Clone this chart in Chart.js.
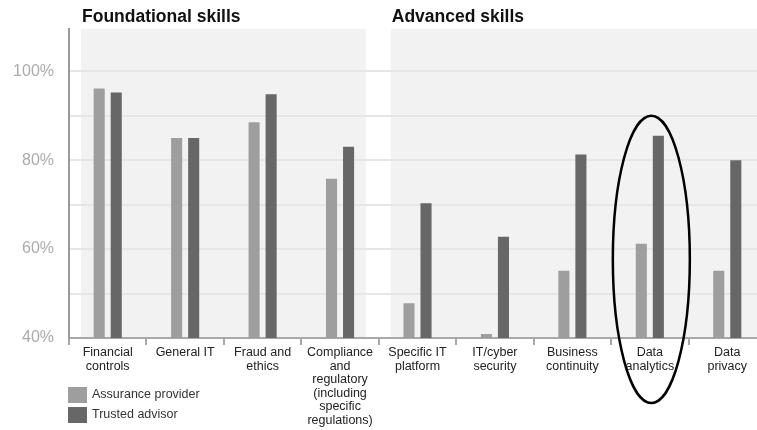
<!DOCTYPE html>
<html>
<head>
<meta charset="utf-8">
<title>Foundational and advanced skills</title>
<script src="https://cdn.jsdelivr.net/npm/chart.js@4.4.1/dist/chart.umd.min.js"></script>
<style>
  html, body { margin: 0; padding: 0; background: #fff; overflow: hidden; }
  #wrap { width: 768px; height: 430px; }
</style>
</head>
<body>
<div id="wrap"><canvas id="chart" width="768" height="430"></canvas></div>
<script>
// Chart data
const categories = [
  ['Financial', 'controls'],
  ['General IT'],
  ['Fraud and', 'ethics'],
  ['Compliance', 'and', 'regulatory', '(including', 'specific', 'regulations)'],
  ['Specific IT', 'platform'],
  ['IT/cyber', 'security'],
  ['Business', 'continuity'],
  ['Data', 'analytics'],
  ['Data', 'privacy']
];
const seriesNames = ['Assurance provider', 'Trusted advisor'];
const assuranceProvider = [96.1, 85.0, 88.5, 75.8, 47.8, 40.9, 55.1, 61.2, 55.1];
const trustedAdvisor = [95.2, 85.0, 94.8, 83.0, 70.3, 62.8, 81.3, 85.5, 80.0];
const yTickLabels = [40, 60, 80, 100];
const groupTitles = ['Foundational skills', 'Advanced skills'];
const groupRanges = [[0, 3], [4, 8]];
const highlighted = 7; // Data analytics

const FONT = '"Liberation Sans", Arial, Helvetica, sans-serif';
const seriesColors = ['#9e9e9e', '#676767'];

// grey panels behind each group + group headings
const groupPanels = {
  id: 'groupPanels',
  beforeDraw(chart) {
    const { ctx, chartArea, scales: { x } } = chart;
    const w = (x.right - x.left) / categories.length;
    ctx.save();
    groupRanges.forEach((r, i) => {
      const left = x.getPixelForValue(r[0]) - w / 2 + 12;
      let right = x.getPixelForValue(r[1]) + w / 2 - 13;
      if (i === groupRanges.length - 1) right = chart.width;
      ctx.fillStyle = '#f2f2f2';
      ctx.fillRect(left, chartArea.top, right - left, chartArea.bottom - chartArea.top);
      ctx.fillStyle = '#111';
      ctx.font = 'bold 17.5px ' + FONT;
      ctx.textBaseline = 'alphabetic';
      ctx.textAlign = 'left';
      ctx.fillText(groupTitles[i], left + 1, 21.5);
    });
    ctx.restore();
  }
};

// legend stacked at bottom left + ellipse around the highlighted category
const extras = {
  id: 'extras',
  afterDraw(chart) {
    const { ctx, chartArea, scales: { x, y } } = chart;
    ctx.save();
    chart.data.datasets.forEach((ds, i) => {
      const top = 387 + i * 20;
      ctx.fillStyle = ds.backgroundColor;
      ctx.fillRect(68, top, 19, 16);
      ctx.fillStyle = '#333';
      ctx.font = '12.5px ' + FONT;
      ctx.textBaseline = 'middle';
      ctx.textAlign = 'left';
      ctx.fillText(ds.label, 92, top + 8);
    });

    const cx = x.getPixelForValue(highlighted) + 1.5;
    const top = y.getPixelForValue(90);
    const bottom = chartArea.bottom + 65;
    ctx.beginPath();
    ctx.ellipse(cx, (top + bottom) / 2, 38.5, (bottom - top) / 2, 0, 0, Math.PI * 2);
    ctx.strokeStyle = '#000';
    ctx.lineWidth = 2.5;
    ctx.stroke();
    ctx.restore();
  }
};

new Chart(document.getElementById('chart'), {
  type: 'bar',
  data: {
    labels: categories,
    datasets: [
      { label: seriesNames[0], data: assuranceProvider, backgroundColor: seriesColors[0] },
      { label: seriesNames[1], data: trustedAdvisor, backgroundColor: seriesColors[1] }
    ]
  },
  options: {
    responsive: false,
    animation: false,
    devicePixelRatio: 1,
    layout: { padding: { top: 29, right: 2, left: 0, bottom: 0 } },
    datasets: {
      bar: { categoryPercentage: 0.44, barPercentage: 0.65 }
    },
    plugins: {
      legend: { display: false },
      tooltip: { enabled: false }
    },
    scales: {
      x: {
        afterFit(scale) { scale.height = 92; },
        grid: {
          offset: true,
          drawOnChartArea: false,
          drawTicks: true,
          tickLength: 7,
          color: '#a8a8a8',
          lineWidth: 2
        },
        border: { color: '#a8a8a8', width: 2 },
        ticks: {
          color: '#222',
          font: { family: FONT, size: 12.5, lineHeight: 1.08 },
          padding: 1,
          maxRotation: 0,
          autoSkip: false
        }
      },
      y: {
        min: 40,
        max: 109.5,
        afterFit(scale) { scale.width = 69; },
        afterBuildTicks(scale) {
          scale.ticks = scale.ticks.filter(t => t.value <= 100);
        },
        grid: {
          drawTicks: false,
          color: '#e6e6e6',
          lineWidth: 2
        },
        border: { color: '#9a9a9a', width: 2 },
        ticks: {
          stepSize: 10,
          padding: 15,
          color: '#ababab',
          font: { family: FONT, size: 16 },
          callback: v => yTickLabels.includes(v) ? v + '%' : ''
        }
      }
    }
  },
  plugins: [groupPanels, extras]
});
</script>
</body>
</html>
